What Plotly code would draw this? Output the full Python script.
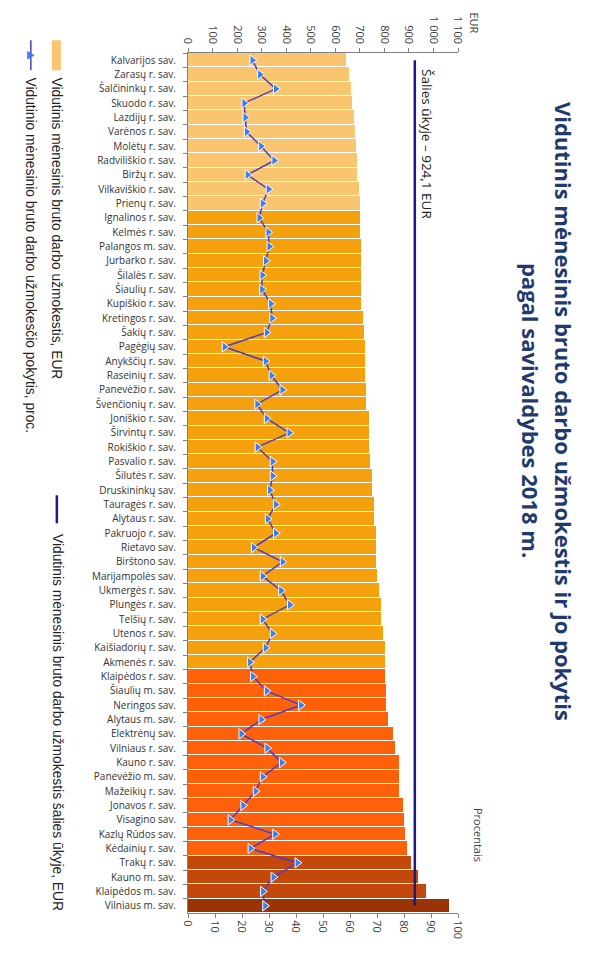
import plotly.graph_objects as go

municipalities = [
    "Kalvarijos sav.", "Zarasų r. sav.", "Šalčininkų r. sav.", "Skuodo r. sav.", "Lazdijų r. sav.",
    "Varėnos r. sav.", "Molėtų r. sav.", "Radviliškio r. sav.", "Biržų r. sav.", "Vilkaviškio r. sav.",
    "Prienų r. sav.", "Ignalinos r. sav.", "Kelmės r. sav.", "Palangos m. sav.", "Jurbarko r. sav.",
    "Šilalės r. sav.", "Šiaulių r. sav.", "Kupiškio r. sav.", "Kretingos r. sav.", "Šakių r. sav.",
    "Pagėgių sav.", "Anykščių r. sav.", "Raseinių r. sav.", "Panevėžio r. sav.", "Švenčionių r. sav.",
    "Joniškio r. sav.", "Širvintų r. sav.", "Rokiškio r. sav.", "Pasvalio r. sav.", "Šilutės r. sav.",
    "Druskininkų sav.", "Tauragės r. sav.", "Alytaus r. sav.", "Pakruojo r. sav.", "Rietavo sav.",
    "Birštono sav.", "Marijampolės sav.", "Ukmergės r. sav.", "Plungės r. sav.", "Telšių r. sav.",
    "Utenos r. sav.", "Kaišiadorių r. sav.", "Akmenės r. sav.", "Klaipėdos r. sav.", "Šiaulių m. sav.",
    "Neringos sav.", "Alytaus m. sav.", "Elektrėnų sav.", "Vilniaus r. sav.", "Kauno r. sav.",
    "Panevėžio m. sav.", "Mažeikių r. sav.", "Jonavos r. sav.", "Visagino sav.", "Kazlų Rūdos sav.",
    "Kėdainių r. sav.", "Trakų r. sav.", "Kauno m. sav.", "Klaipėdos m. sav.", "Vilniaus m. sav.",
]

wage_eur = [
    646, 660, 667, 671, 680, 684, 690, 694, 694, 701,
    703, 703, 703, 707, 707, 707, 710, 710, 718, 722,
    727, 727, 727, 729, 729, 741, 741, 741, 746, 752,
    752, 762, 762, 771, 771, 771, 776, 782, 789, 789,
    799, 805, 805, 805, 810, 810, 818, 841, 848, 864,
    864, 864, 878, 884, 887, 898, 914, 943, 973, 1068,
]

change_pct = [
    23.8, 26.6, 32.5, 20.8, 21.2, 21.7, 27.0, 31.9, 22.0, 29.8,
    27.6, 26.4, 29.7, 30.1, 28.8, 27.5, 27.4, 30.7, 31.1, 29.1,
    13.5, 28.7, 30.9, 34.9, 25.6, 29.1, 37.5, 25.7, 31.3, 31.3,
    30.3, 32.5, 29.5, 32.5, 24.3, 35.0, 27.6, 34.4, 37.7, 27.6,
    31.3, 28.7, 22.9, 24.0, 29.1, 41.8, 27.1, 19.7, 29.3, 34.7,
    27.6, 25.0, 20.4, 15.7, 32.2, 23.1, 40.5, 31.6, 27.7, 28.5,
]

national_avg = 924.1

eur_ticks = [0, 100, 200, 300, 400, 500, 600, 700, 800, 900, 1000, 1100]
eur_ticktext = ["0", "100", "200", "300", "400", "500", "600", "700", "800", "900", "1 000", "1 100"]
pct_ticks = [0, 10, 20, 30, 40, 50, 60, 70, 80, 90, 100]

group_sizes = [11, 32, 13, 3, 1]
group_colors = ["#F9C56F", "#F5A10D", "#FF610A", "#C4480C", "#9A3404"]
bar_colors = []
for n, c in zip(group_sizes, group_colors):
    bar_colors += [c] * n

# page has an 8px body margin: work in screenshot pixels, shift by OFF
OFF = 8
W, H = 591, 954
L, R = 188 - OFF, 457.7 - OFF
T, B = 52.7 - OFF, 912.7 - OFF


def px(x):
    return (x - OFF - L) / (R - L)


def py(y):
    return (B - (y - OFF)) / (B - T)


fig = go.Figure()

fig.add_trace(go.Bar(
    x=wage_eur, y=municipalities, orientation="h",
    marker=dict(color=bar_colors, line=dict(color="white", width=1)),
    width=1, xaxis="x", yaxis="y", showlegend=False,
))

fig.add_trace(go.Scatter(
    x=[national_avg, national_avg], y=[municipalities[0], municipalities[-1]],
    mode="lines", line=dict(color="#1C1C80", width=2.5),
    xaxis="x", yaxis="y", showlegend=False,
))

fig.add_trace(go.Scatter(
    x=change_pct, y=municipalities, mode="lines+markers",
    line=dict(color="#4A3FC4", width=1.5),
    marker=dict(symbol="triangle-right", size=9, color="#3D7DF0",
                line=dict(color="white", width=1)),
    xaxis="x2", yaxis="y", showlegend=False,
))

tickfont = dict(family="Open Sans, sans-serif", size=11, color="#404040")

fig.update_layout(
    width=W, height=H,
    margin=dict(l=L, r=W - R, t=T, b=H - B, autoexpand=False),
    paper_bgcolor="white", plot_bgcolor="white",
    bargap=0,
    xaxis=dict(
        domain=[0, 1], range=[0, 1100], side="top", anchor="y", automargin=False,
        tickvals=eur_ticks, ticktext=eur_ticktext, tickangle=90,
        showgrid=False, zeroline=False, showline=True, linecolor="#808080",
        ticks="outside", ticklen=4, tickcolor="#808080", tickfont=tickfont,
    ),
    xaxis2=dict(
        range=[0, 100], overlaying="x", side="bottom", anchor="y", automargin=False,
        tickvals=pct_ticks, tickangle=90,
        showgrid=False, zeroline=False, showline=True, linecolor="#808080",
        ticks="outside", ticklen=4, tickcolor="#808080", tickfont=tickfont,
    ),
    yaxis=dict(
        domain=[0, 1], categoryorder="array", categoryarray=municipalities,
        range=[len(municipalities) - 0.5, -0.5], automargin=False,
        showgrid=False, zeroline=False,
        showline=True, linecolor="#808080", ticks="outside", ticklen=4,
        tickcolor="#808080", tickson="boundaries", ticklabelstandoff=9,
        tickfont=dict(family="Open Sans, sans-serif", size=10, color="#333333"),
    ),
)

ann = []
title_font = dict(family="Open Sans, sans-serif", size=22, color="#1F3A6E")
ann.append(dict(x=px(563), y=py(411), xref="paper", yref="paper", showarrow=False,
                text="<b>Vidutinis mėnesinis bruto darbo užmokestis ir jo pokytis</b>",
                textangle=90, font=title_font, xanchor="center", yanchor="middle"))
ann.append(dict(x=px(530), y=py(410), xref="paper", yref="paper", showarrow=False,
                text="<b>pagal savivaldybes 2018 m.</b>",
                textangle=90, font=title_font, xanchor="center", yanchor="middle"))
ann.append(dict(x=px(426), y=py(67), xref="paper", yref="paper", showarrow=False,
                text="Šalies ūkyje – 924,1 EUR", textangle=90,
                font=dict(family="Open Sans, sans-serif", size=13.5, color="#222222"),
                xanchor="center", yanchor="top"))
ann.append(dict(x=px(474), y=py(10), xref="paper", yref="paper", showarrow=False,
                text="EUR", textangle=90,
                font=dict(family="Open Sans, sans-serif", size=11, color="#404040"),
                xanchor="center", yanchor="top"))
ann.append(dict(x=px(478), y=py(835), xref="paper", yref="paper", showarrow=False,
                text="Procentais", textangle=90,
                font=dict(family="Open Sans, sans-serif", size=11, color="#404040"),
                xanchor="center", yanchor="middle"))

legend_font = dict(family="Liberation Sans Narrow, Arial Narrow, sans-serif", size=13.8, color="#222222")
ann.append(dict(x=px(57), y=py(75), xref="paper", yref="paper", showarrow=False,
                text="Vidutinis mėnesinis bruto darbo užmokestis, EUR", textangle=90,
                font=legend_font, xanchor="center", yanchor="top"))
ann.append(dict(x=px(31), y=py(75), xref="paper", yref="paper", showarrow=False,
                text="Vidutinio mėnesinio bruto darbo užmokesčio pokytis, proc.", textangle=90,
                font=legend_font, xanchor="center", yanchor="top"))
ann.append(dict(x=px(57), y=py(532), xref="paper", yref="paper", showarrow=False,
                text="Vidutinis mėnesinis bruto darbo užmokestis šalies ūkyje, EUR", textangle=90,
                font=legend_font, xanchor="center", yanchor="top"))
fig.update_layout(annotations=ann)

tri = "M {a},{b} L {c},{d} L {e},{f} Z".format(
    a=px(27.5), b=py(51), c=px(27.5), d=py(59), e=px(34.5), f=py(55))
shapes = [
    dict(type="rect", xref="paper", yref="paper", x0=px(52), x1=px(61), y0=py(40), y1=py(70),
         fillcolor="#F9C56F", line=dict(width=0)),
    dict(type="line", xref="paper", yref="paper", x0=px(31), x1=px(31), y0=py(40), y1=py(70),
         line=dict(color="#4A3FC4", width=1.5)),
    dict(type="path", xref="paper", yref="paper", path=tri,
         fillcolor="#3D7DF0", line=dict(color="#3D7DF0", width=0.5)),
    dict(type="line", xref="paper", yref="paper", x0=px(57), x1=px(57), y0=py(495), y1=py(523),
         line=dict(color="#1C1C80", width=2.5)),
]
fig.update_layout(shapes=shapes)

fig.write_html("out.html")
